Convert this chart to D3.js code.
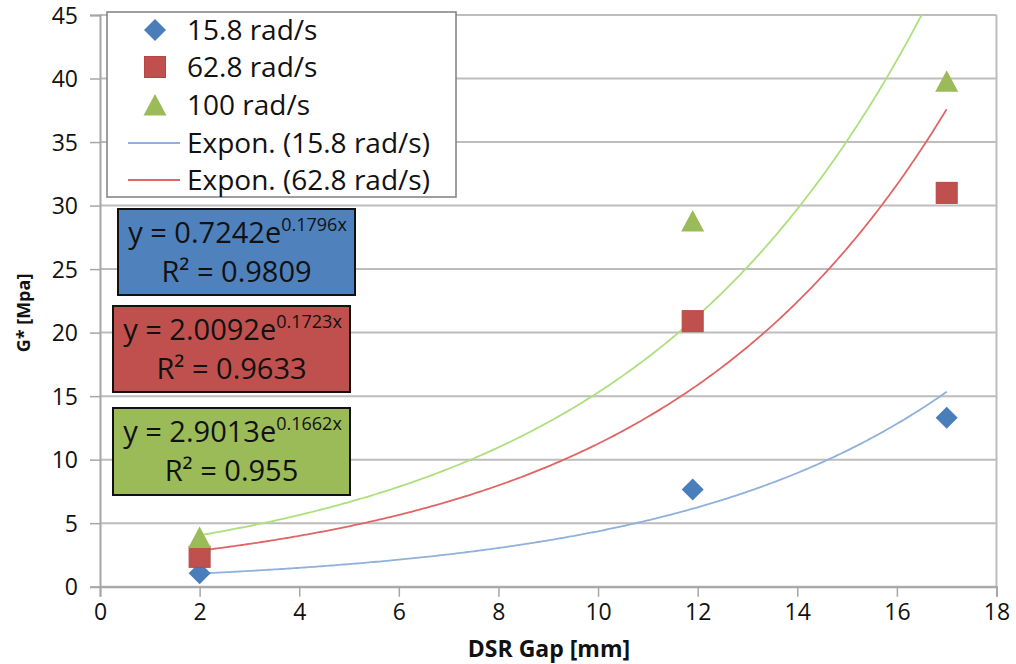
<!DOCTYPE html>
<html><head><meta charset="utf-8">
<script src="https://cdn.jsdelivr.net/npm/d3@7"></script>
<style>
html,body{margin:0;padding:0;background:#fff;}
svg{display:block;font-family:"Open Sans",Lato,sans-serif;}
</style></head>
<body><svg id="c" width="1016" height="664"></svg>
<script>
// ---- data ----
const gaps = [2, 11.9, 17];
const seriesNames = ["15.8 rad/s", "62.8 rad/s", "100 rad/s"];
const g15 = [1.05, 7.66, 13.3];
const g63 = [2.35, 20.9, 31.0];
const g100 = [3.8, 28.7, 39.7];
const fitA = [0.7242, 2.0092, 2.9013];
const fitB = [0.1796, 0.1723, 0.1662];
const fitR2 = ["0.9809", "0.9633", "0.955"];
const trendNames = ["Expon. (15.8 rad/s)", "Expon. (62.8 rad/s)"];
const xTicks = [0, 2, 4, 6, 8, 10, 12, 14, 16, 18];
const yTicks = [0, 5, 10, 15, 20, 25, 30, 35, 40, 45];

const markerCol = ["#4a7ebb", "#c0504d", "#9bbb59"];
const trendCol = ["#8fb1dc", "#e06666", "#ade07c"];
const boxCol = ["#4f81bd", "#c0504d", "#9bbb59"];
const FONT = "'Open Sans', Lato, sans-serif";

const svg = d3.select("#c");
const L = 100, R = 996.5, T = 15, B = 586.7;
const x = d3.scaleLinear().domain([0, 18]).range([L, R]);
const y = d3.scaleLinear().domain([0, 45]).range([B, T]);

// gridlines
svg.append("g").selectAll("line").data(yTicks).join("line")
  .attr("x1", L).attr("x2", R).attr("y1", d => y(d)).attr("y2", d => y(d))
  .attr("stroke", "#bdbdbd").attr("stroke-width", 2);
// right border
svg.append("line").attr("x1", R).attr("x2", R).attr("y1", T).attr("y2", B)
  .attr("stroke", "#bdbdbd").attr("stroke-width", 2);

// axes
const yAxis = svg.append("g").attr("transform", `translate(${L},0)`)
  .call(d3.axisLeft(y).tickValues(yTicks).tickSize(10).tickPadding(12));
const xAxis = svg.append("g").attr("transform", `translate(0,${B})`)
  .call(d3.axisBottom(x).tickValues(xTicks).tickSize(10).tickPadding(7));
[xAxis, yAxis].forEach(a => {
  a.select(".domain").attr("stroke", "#a6a6a6").attr("stroke-width", 2);
  a.selectAll(".tick line").attr("stroke", "#a6a6a6").attr("stroke-width", 1.5);
  a.selectAll("text").attr("font-family", FONT).attr("font-size", 23).attr("fill", "#111");
});
yAxis.selectAll("text").attr("dy", "0.36em");

// axis titles
svg.append("text").attr("x", 549).attr("y", 657).attr("text-anchor", "middle")
  .attr("font-weight", "bold").attr("font-size", 23).attr("fill", "#111").text("DSR Gap [mm]");
svg.append("text").attr("transform", "translate(30,313) rotate(-90)").attr("text-anchor", "middle")
  .attr("font-weight", "bold").attr("font-size", 18).attr("fill", "#111").text("G* [Mpa]");

// trendlines
svg.append("clipPath").attr("id", "pa").append("rect")
  .attr("x", L).attr("y", T).attr("width", R - L).attr("height", B - T);
const line = d3.line().x(d => x(d[0])).y(d => y(d[1]));
fitA.forEach((a, i) => {
  const pts = d3.range(0, 301).map(k => {
    const xv = gaps[0] + (gaps[2] - gaps[0]) * k / 300;
    return [xv, a * Math.exp(fitB[i] * xv)];
  });
  svg.append("path").attr("d", line(pts)).attr("fill", "none")
    .attr("stroke", trendCol[i]).attr("stroke-width", 1.8).attr("clip-path", "url(#pa)");
});

// markers
const series = [g15, g63, g100];
function marker(g, i, cx, cy) {
  if (i === 0) {
    g.append("path").attr("d", `M${cx},${cy - 11}L${cx + 11},${cy}L${cx},${cy + 11}L${cx - 11},${cy}Z`)
      .attr("fill", markerCol[0]);
  } else if (i === 1) {
    g.append("rect").attr("x", cx - 10.5).attr("y", cy - 10.5).attr("width", 21).attr("height", 21)
      .attr("fill", markerCol[1]).attr("stroke", "#b94542").attr("stroke-width", 1);
  } else {
    g.append("path").attr("d", `M${cx},${cy - 12}L${cx + 11.5},${cy + 9.5}L${cx - 11.5},${cy + 9.5}Z`)
      .attr("fill", markerCol[2]);
  }
}
const mg = svg.append("g");
series.forEach((s, i) => {
  s.forEach((v, j) => marker(mg, i, x(gaps[j]), y(v)));
});

// legend
const lg = svg.append("g");
lg.append("rect").attr("x", 107).attr("y", 12).attr("width", 349).attr("height", 185)
  .attr("fill", "#fff").attr("stroke", "#7f7f7f").attr("stroke-width", 1.5);
const legY = [30, 67, 105, 143, 180];
seriesNames.forEach((n, i) => {
  marker(lg, i, 155, legY[i] + (i === 2 ? 1 : 0));
  lg.append("text").attr("x", 187).attr("y", legY[i]).attr("dy", "0.36em")
    .attr("font-size", 28).attr("fill", "#111").text(n);
});
trendNames.forEach((n, i) => {
  lg.append("line").attr("x1", 128).attr("x2", 180).attr("y1", legY[3 + i]).attr("y2", legY[3 + i])
    .attr("stroke", trendCol[i]).attr("stroke-width", 2);
  lg.append("text").attr("x", 187).attr("y", legY[3 + i]).attr("dy", "0.36em")
    .attr("font-size", 28).attr("fill", "#111").text(n);
});

// equation boxes
const boxes = [
  {x: 118, y: 209, w: 237, h: 86},
  {x: 113, y: 306, w: 237, h: 86},
  {x: 113, y: 408, w: 237, h: 87}
];
boxes.forEach((b, i) => {
  const g = svg.append("g");
  g.append("rect").attr("x", b.x).attr("y", b.y).attr("width", b.w).attr("height", b.h)
    .attr("fill", boxCol[i]).attr("stroke", "#111").attr("stroke-width", 2);
  const t1 = g.append("text").attr("x", b.x + b.w / 2 + 1).attr("y", b.y + 34)
    .attr("text-anchor", "middle").attr("font-size", 29).attr("fill", "#111");
  t1.append("tspan").text(`y = ${fitA[i].toFixed(4)}e`);
  t1.append("tspan").attr("font-size", 18).attr("dy", -12).text(`${fitB[i].toFixed(4)}x`);
  g.append("text").attr("x", b.x + b.w / 2).attr("y", b.y + 73)
    .attr("text-anchor", "middle").attr("font-size", 29).attr("fill", "#111")
    .text(`R² = ${fitR2[i]}`);
});
</script></body></html>
